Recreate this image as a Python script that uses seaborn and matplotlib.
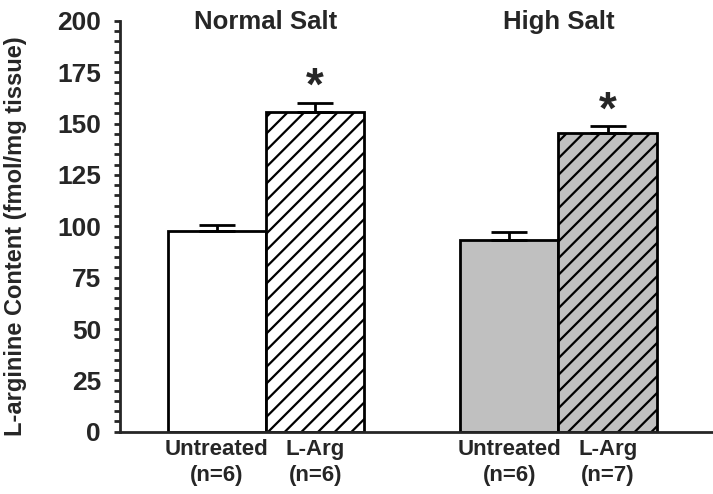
import matplotlib
matplotlib.use("Agg")
import matplotlib.pyplot as plt
from matplotlib.ticker import MultipleLocator
import seaborn as sns
import pandas as pd

# data
groups = ["Normal Salt", "High Salt"]
labels = ["Untreated\n(n=6)", "L-Arg\n(n=6)", "Untreated\n(n=6)", "L-Arg\n(n=7)"]
positions = [0, 1, 2.97, 3.97]
means = [97.5, 155.8, 93.3, 145.6]
errors = [3.2, 4.3, 3.7, 3.0]
significant = [False, True, False, True]

fill_colors = ["#ffffff", "#ffffff", "#c0c0c0", "#c0c0c0"]
hatches = ["", "//", "", "//"]

df = pd.DataFrame({"pos": positions, "mean": means, "label": labels})

sns.set_style("ticks")
plt.rcParams["font.family"] = ["Liberation Sans", "DejaVu Sans"]
plt.rcParams["font.weight"] = "bold"
plt.rcParams["hatch.linewidth"] = 1.6

fig = plt.figure(figsize=(7.13, 4.94), dpi=100)
ax = fig.add_axes([0.168, 0.126, 0.832, 0.832])

sns.barplot(data=df, x="pos", y="mean", hue="pos", palette=fill_colors,
            native_scale=True, width=1.0, legend=False, errorbar=None,
            edgecolor="black", linewidth=2, ax=ax)

for bar, h in zip(ax.patches, hatches):
    bar.set_hatch(h)

# upper error bars only
ax.errorbar(positions, means, yerr=[[0] * 4, errors], fmt="none",
            ecolor="black", elinewidth=2, capsize=13, capthick=2)

for x, m, e, s in zip(positions, means, errors, significant):
    if s:
        ax.text(x, m + e - 3.5, "*", ha="center", va="bottom",
                fontsize=33, fontweight="bold")

ax.text((positions[0] + positions[1]) / 2, 199.5, groups[0], ha="center",
        va="center", fontsize=18.5, fontweight="bold")
ax.text((positions[2] + positions[3]) / 2, 199.5, groups[1], ha="center",
        va="center", fontsize=18.5, fontweight="bold")

ax.set_xlim(-0.985, 5.04)
ax.set_ylim(0, 200)
ax.yaxis.set_major_locator(MultipleLocator(25))
ax.yaxis.set_minor_locator(MultipleLocator(5))
ax.set_xticks(positions)
ax.set_xticklabels(labels, fontsize=16, fontweight="bold", linespacing=1.35)
ax.tick_params(axis="x", length=0, pad=5)
ax.tick_params(axis="y", which="major", length=4.5, width=2, labelsize=19, pad=9)
ax.tick_params(axis="y", which="minor", length=4, width=2)
for lab in ax.get_yticklabels():
    lab.set_fontweight("bold")

ax.set_xlabel("")
ax.set_ylabel("L-arginine Content (fmol/mg tissue)", fontsize=17,
              fontweight="bold")
ax.yaxis.set_label_coords(-0.156, 0.475)

sns.despine(ax=ax)
ax.spines["left"].set_linewidth(2)
ax.spines["bottom"].set_linewidth(2)

fig.savefig("out.png", dpi=100)
